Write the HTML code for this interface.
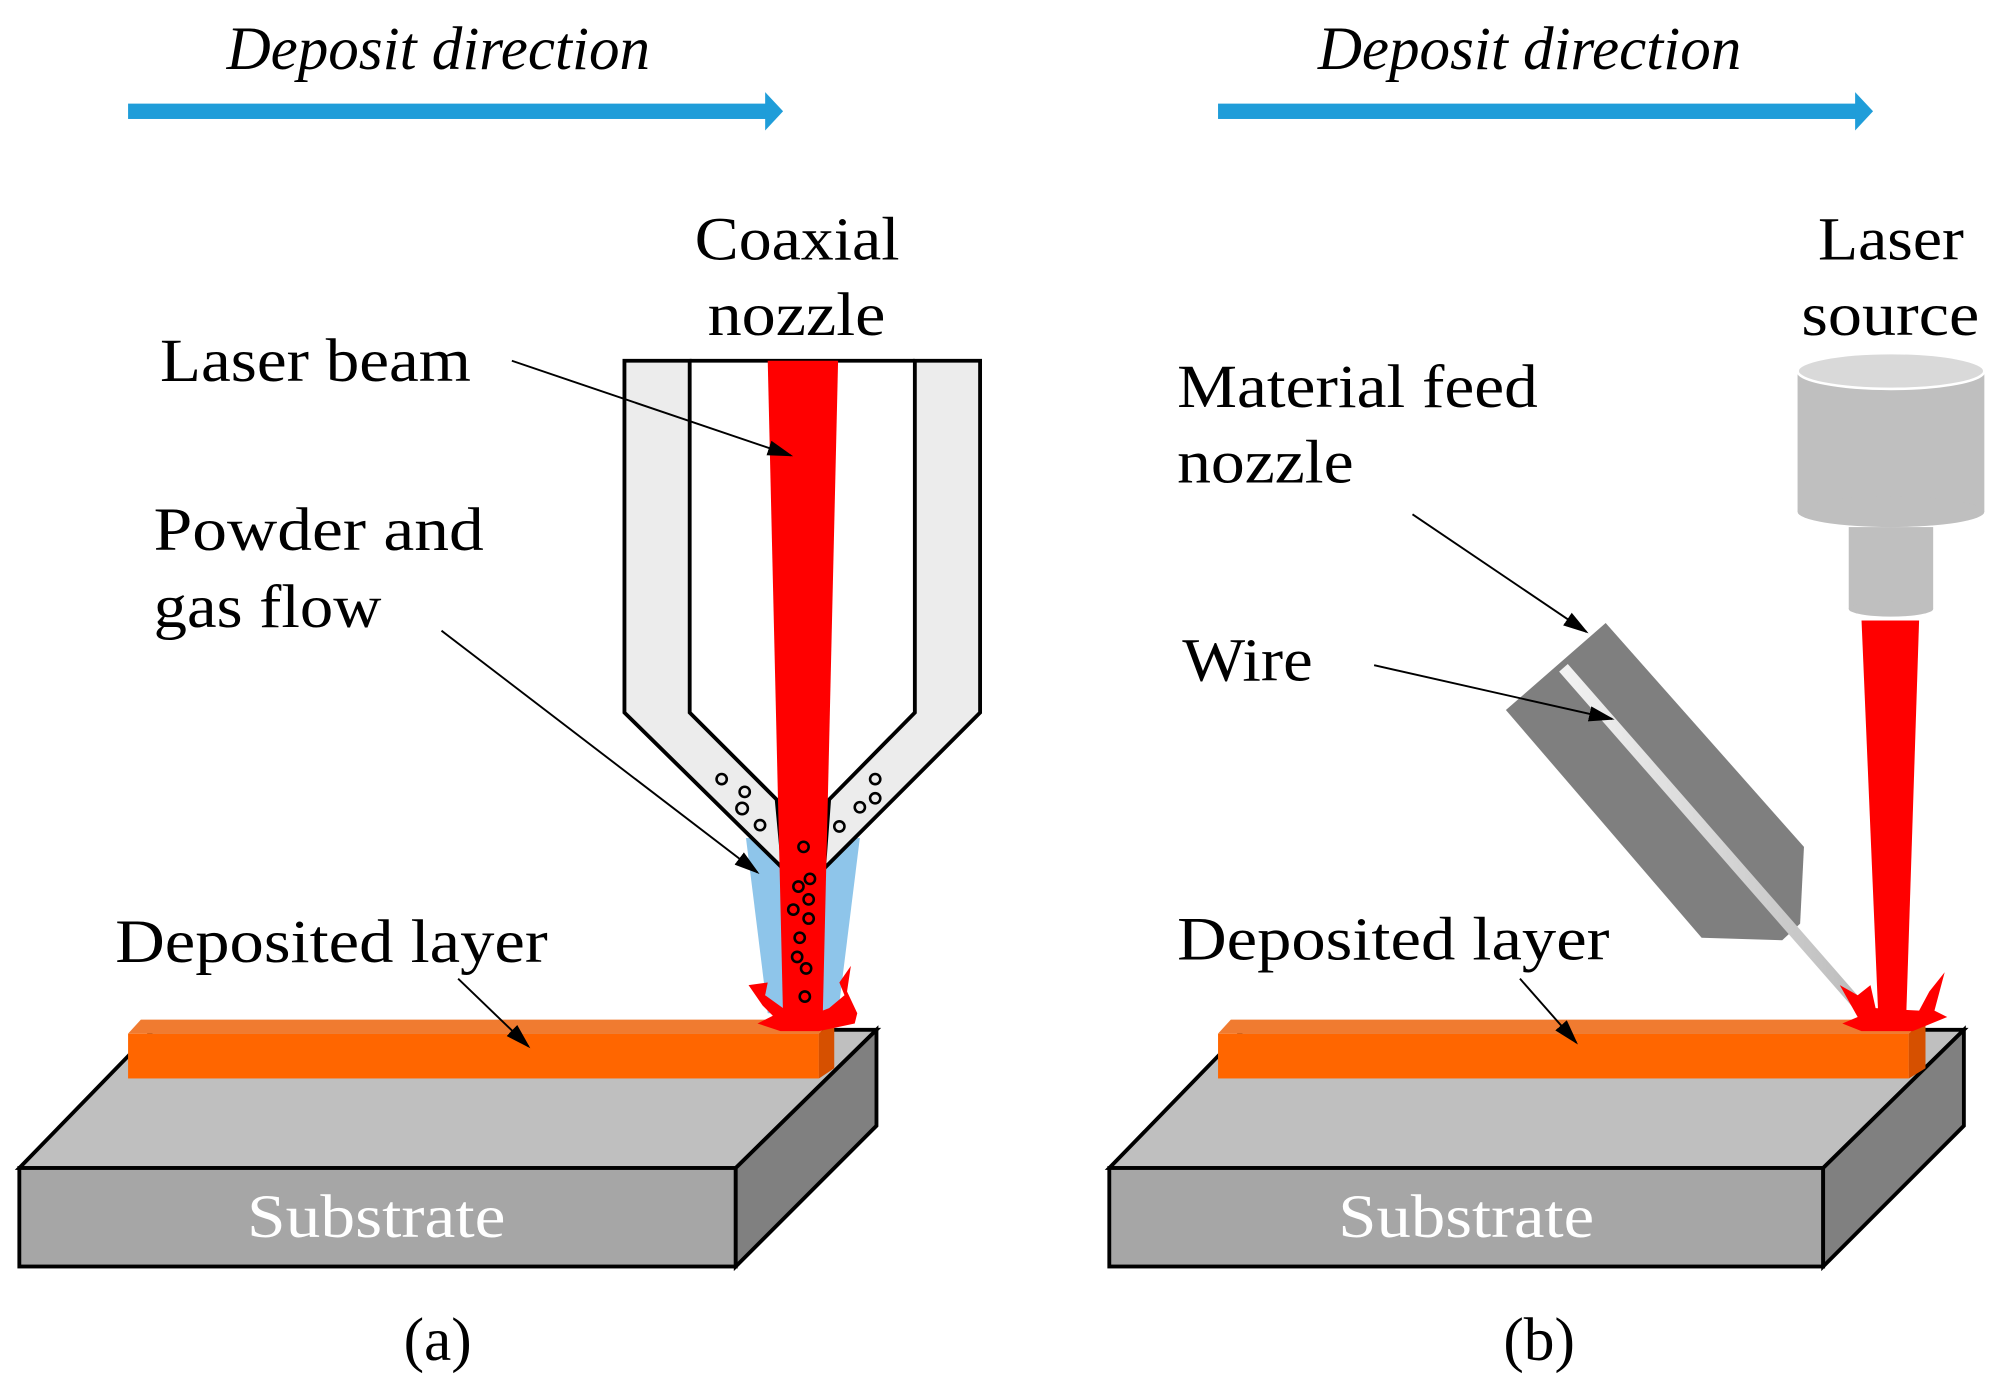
<!DOCTYPE html>
<html><head><meta charset="utf-8"><style>
html,body{margin:0;padding:0;background:#fff;}
svg{display:block;}
text{font-family:"Liberation Serif",serif;font-size:48px;fill:#000;}
</style></head><body>
<svg width="1996" height="1397" viewBox="0 0 1560 1092" xmlns="http://www.w3.org/2000/svg">
<defs>
<marker id="ah2" viewBox="0 0 20 16" markerWidth="20" markerHeight="16" refX="18" refY="8" orient="auto" markerUnits="userSpaceOnUse">
<path d="M0,2 L20,8 L0,14 Z" fill="#000"/></marker>
<linearGradient id="wire" x1="0" y1="0" x2="1" y2="0"><stop offset="0" stop-color="#f2f2f2"/><stop offset="1" stop-color="#bdbdbd"/></linearGradient>
</defs>

<!-- LEFT PANEL -->
<text x="177" y="54" font-style="italic" font-size="44" textLength="331" lengthAdjust="spacingAndGlyphs">Deposit direction</text>
<rect x="100" y="81" width="500" height="12" fill="#1f9dd9"/>
<path d="M598,72 L612,87 L598,102 Z" fill="#1f9dd9"/>

<polygon points="15,913 120,805 685,805 575,913" fill="#bfbfbf" stroke="#000" stroke-width="3"/>
<rect x="15" y="913" width="560" height="77" fill="#a6a6a6" stroke="#000" stroke-width="3"/>
<polygon points="575,913 685,805 685,880 575,990" fill="#808080" stroke="#000" stroke-width="3"/>
<text x="193" y="967" style="fill:#fff" textLength="202" lengthAdjust="spacingAndGlyphs">Substrate</text>

<polygon points="100,808 110,797 652,797 640,808" fill="#f07b30"/>
<rect x="100" y="808" width="540" height="35" fill="#ff6600"/>
<polygon points="640,808 652,797 652,835 640,843" fill="#d65000"/>

<polygon points="583,655 672,655 655,792 600,792" fill="#8ec5ea"/>
<polygon points="488,282 539,282 539,557 607,625 612,679 488,557" fill="#ececec" stroke="#000" stroke-width="3"/>
<polygon points="766,282 715,282 715,557 648,625 644,679 766,557" fill="#ececec" stroke="#000" stroke-width="3"/>
<line x1="539" y1="282" x2="715" y2="282" stroke="#000" stroke-width="3"/>
<polygon points="600,282 655,282 643,795 612,795" fill="#ff0000"/>
<polygon points="585,770 600,768 598,778 612,788 630,795 648,788 660,778 656,768 665,755 662,775 670,792 668,800 640,806 610,806 592,800 604,794 596,786" fill="#ff0000"/>
<g fill="none" stroke="#000" stroke-width="2">
<circle cx="564" cy="609" r="4"/><circle cx="582" cy="619" r="4"/><circle cx="580" cy="632" r="4.5"/><circle cx="594" cy="645" r="4"/>
<circle cx="684" cy="609" r="4"/><circle cx="684" cy="624" r="4"/><circle cx="672" cy="631" r="4"/><circle cx="656" cy="646" r="4"/>
<circle cx="628" cy="662" r="4"/><circle cx="633" cy="687" r="4"/><circle cx="624" cy="693" r="4"/><circle cx="632" cy="703" r="4"/>
<circle cx="620" cy="711" r="4"/><circle cx="632" cy="718" r="4"/><circle cx="625" cy="733" r="4"/><circle cx="623" cy="748" r="4"/>
<circle cx="630" cy="757" r="4"/><circle cx="629" cy="779" r="4"/>
</g>
<g stroke="#000" stroke-width="1.5" fill="none">
<line x1="400" y1="282" x2="618" y2="356" marker-end="url(#ah2)"/>
<line x1="345" y1="493" x2="592" y2="682" marker-end="url(#ah2)"/>
<line x1="358" y1="765" x2="413" y2="818" marker-end="url(#ah2)"/>
</g>
<text x="543" y="203" textLength="160" lengthAdjust="spacingAndGlyphs">Coaxial</text>
<text x="553" y="262" textLength="139" lengthAdjust="spacingAndGlyphs">nozzle</text>
<text x="125" y="298" textLength="243" lengthAdjust="spacingAndGlyphs">Laser beam</text>
<text x="120" y="430" textLength="258" lengthAdjust="spacingAndGlyphs">Powder and</text>
<text x="120" y="490" textLength="178" lengthAdjust="spacingAndGlyphs">gas flow</text>
<text x="90" y="752" textLength="338" lengthAdjust="spacingAndGlyphs">Deposited layer</text>
<text x="342" y="1063" text-anchor="middle">(a)</text>

<!-- RIGHT PANEL -->
<text x="1030" y="54" font-style="italic" font-size="44" textLength="331" lengthAdjust="spacingAndGlyphs">Deposit direction</text>
<rect x="952" y="81" width="500" height="12" fill="#1f9dd9"/>
<path d="M1450,72 L1464,87 L1450,102 Z" fill="#1f9dd9"/>

<polygon points="867,913 972,805 1535,805 1425,913" fill="#bfbfbf" stroke="#000" stroke-width="3"/>
<rect x="867" y="913" width="558" height="77" fill="#a6a6a6" stroke="#000" stroke-width="3"/>
<polygon points="1425,913 1535,805 1535,880 1425,990" fill="#808080" stroke="#000" stroke-width="3"/>
<text x="1046" y="967" style="fill:#fff" textLength="200" lengthAdjust="spacingAndGlyphs">Substrate</text>

<polygon points="952,808 962,797 1505,797 1492,808" fill="#f07b30"/>
<rect x="952" y="808" width="540" height="35" fill="#ff6600"/>
<polygon points="1492,808 1505,797 1505,835 1492,843" fill="#d65000"/>

<rect x="1405" y="290" width="146" height="110" fill="#bfbfbf"/>
<ellipse cx="1478" cy="400" rx="73" ry="12" fill="#bfbfbf"/>
<ellipse cx="1478" cy="290" rx="73" ry="14" fill="#d9d9d9" stroke="#fff" stroke-width="2"/>
<rect x="1445" y="412" width="66" height="64" fill="#bfbfbf"/>
<ellipse cx="1478" cy="476" rx="33" ry="6" fill="#bfbfbf"/>
<polygon points="1455,485 1500,485 1490,792 1468,792" fill="#ff0000"/>

<polygon points="1177,555 1255,487 1410,662 1407,722 1393,735 1330,733" fill="#7f7f7f"/>
<line x1="1222" y1="522" x2="1452" y2="785" stroke="url(#wire)" stroke-width="9"/>
<polygon points="1438,770 1452,778 1462,770 1466,788 1500,790 1508,775 1520,760 1512,790 1522,795 1495,806 1455,806 1440,800 1452,795" fill="#ff0000"/>

<g stroke="#000" stroke-width="1.5" fill="none">
<line x1="1104" y1="402" x2="1240" y2="494" marker-end="url(#ah2)"/>
<line x1="1074" y1="520" x2="1260" y2="562" marker-end="url(#ah2)"/>
<line x1="1188" y1="765" x2="1232" y2="815" marker-end="url(#ah2)"/>
</g>
<text x="1421" y="203" textLength="114" lengthAdjust="spacingAndGlyphs">Laser</text>
<text x="1408" y="262" textLength="139" lengthAdjust="spacingAndGlyphs">source</text>
<text x="920" y="318" textLength="282" lengthAdjust="spacingAndGlyphs">Material feed</text>
<text x="920" y="377" textLength="138" lengthAdjust="spacingAndGlyphs">nozzle</text>
<text x="924" y="532" textLength="102" lengthAdjust="spacingAndGlyphs">Wire</text>
<text x="920" y="750" textLength="338" lengthAdjust="spacingAndGlyphs">Deposited layer</text>
<text x="1203" y="1063" text-anchor="middle">(b)</text>
</svg>
</body></html>
